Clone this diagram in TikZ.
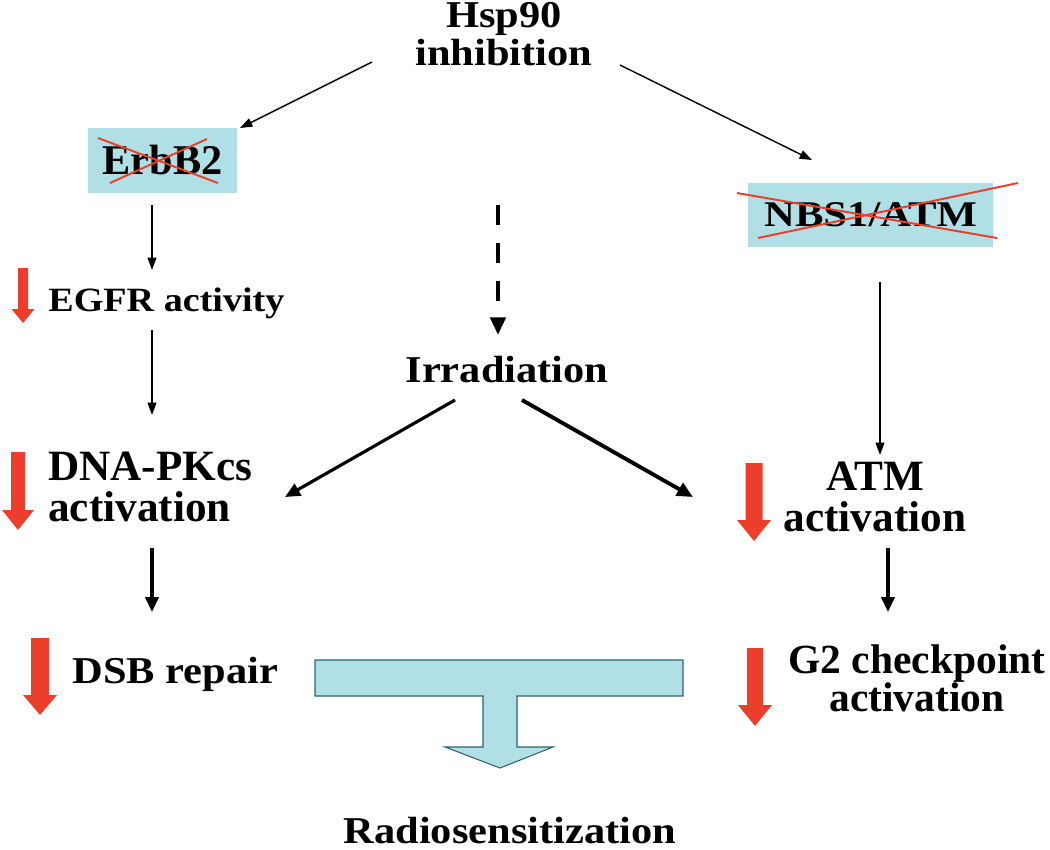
\documentclass[tikz,border=0pt]{standalone}
\usepackage{fontspec}
\setmainfont{Liberation Serif}
\newfontfamily\widefont{Liberation Serif}[FakeStretch=1.12]
\newfontfamily\widerfont{Liberation Serif}[FakeStretch=1.18]
\usetikzlibrary{arrows.meta,calc}
\definecolor{boxblue}{RGB}{176,223,229}
\definecolor{boxedge}{RGB}{45,100,110}
\definecolor{redarrow}{RGB}{236,62,42}
\newcommand\dnblockarrow[6]{%
  \fill[redarrow] (#1-#5,#2) -- (#1+#5,#2) -- (#1+#5,#3) -- (#1+#6,#3) -- (#1,#4) -- (#1-#6,#3) -- (#1-#5,#3) -- cycle;}
\begin{document}
\begin{tikzpicture}[x=0.567pt,y=-0.567pt,
  lbl/.style={font=\fontsize{24}{22}\selectfont\bfseries, inner sep=0pt},
  widelbl/.style={font=\widefont\fontsize{21.5}{21.5}\selectfont\bfseries, inner sep=0pt},
  thinarr/.style={line width=0.8pt, -{Triangle[length=7pt,width=5pt]}},
  midarr/.style={line width=1.8pt, -{Triangle[length=8.5pt,width=7.5pt]}},
  thickarr/.style={line width=2.2pt, -{Triangle[length=9pt,width=8pt]}},
  xline/.style={draw=redarrow, line width=1.1pt},
  inhibbox/.style={fill=boxblue, inner sep=0pt, font=\fontsize{24}{22}\selectfont\bfseries},
]
\useasboundingbox (0,0) rectangle (1050,849);

% texts
\node[widelbl, align=center, anchor=south] (hsp) at (504,66) {Hsp90\\inhibition};
\node[inhibbox, minimum width=84.5pt, minimum height=36.9pt] (erb) at (162.5,160.5) {ErbB2};
\node[inhibbox, font=\widerfont\fontsize{20.5}{22}\selectfont\bfseries, minimum width=138.9pt, minimum height=36.3pt] (nbs) at (870.5,215) {NBS1/ATM};
\node[lbl, font=\widefont\fontsize{19.3}{22}\selectfont\bfseries, anchor=base west] (egfr) at (48,311) {EGFR activity};
\node[widelbl, anchor=base] (irr) at (507,382) {Irradiation};
\node[lbl, font=\fontsize{24.5}{23}\selectfont\bfseries, align=left, anchor=south west] (dna) at (48,522) {DNA-PKcs\\activation};
\node[lbl, font=\fontsize{24.5}{23}\selectfont\bfseries, align=center, anchor=south] (atm) at (875,532) {ATM\\activation};
\node[widelbl, anchor=base west] (dsb) at (72,683) {DSB repair};
\node[lbl, font=\fontsize{23.5}{21.5}\selectfont\bfseries, align=center, anchor=south] (g2) at (917,712) {G2 checkpoint\\activation};
\node[widelbl, anchor=base] (rad) at (510,843) {Radiosensitization};

% red crosses
\draw[xline] (98,138) -- (218,183);
\draw[xline] (110,183) -- (207,139);
\draw[xline] (737,193) -- (997,238);
\draw[xline] (758,238) -- (1018,183);

% arrow end points
\coordinate (h1) at (372,62);  \coordinate (e1) at (240,128);
\coordinate (h2) at (620,65);  \coordinate (n1) at (812,160);
\coordinate (d1) at (498,205); \coordinate (i1) at (498,335);
\coordinate (erbout) at (152,205); \coordinate (egfrin) at (152,270);
\coordinate (egfrout) at (152,330); \coordinate (dnain) at (152,415);
\coordinate (nbsout) at (880,282); \coordinate (atmin) at (880,455);
\coordinate (irrl) at (455,400); \coordinate (dnar) at (285,497);
\coordinate (irrr) at (522,400); \coordinate (atml) at (693,497);
\coordinate (dnaout) at (152,548); \coordinate (dsbin) at (152,612);
\coordinate (atmout) at (888,548); \coordinate (g2in) at (888,612);

\draw[thinarr] (h1) -- (e1);
\draw[thinarr] (h2) -- (n1);
\draw[line width=2.8pt, dash pattern=on 11.3pt off 10.2pt, -{Triangle[length=10pt,width=8.5pt]}] (d1) -- (i1);
\draw[thinarr] (erbout) -- (egfrin);
\draw[thinarr] (egfrout) -- (dnain);
\draw[thinarr] (nbsout) -- (atmin);
\draw[midarr] (irrl) -- (dnar);
\draw[thickarr] (irrr) -- (atml);
\draw[midarr] (dnaout) -- (dsbin);
\draw[midarr] (atmout) -- (g2in);

% red down arrows
\dnblockarrow{23}{268}{309}{323}{5}{11.5}
\dnblockarrow{18}{452}{510}{530}{7}{16}
\dnblockarrow{754}{463}{520}{541}{8.5}{17}
\dnblockarrow{40}{638}{695}{715}{9}{17}
\dnblockarrow{755}{648}{705}{726}{8}{17}

% T-shaped arrow
\filldraw[fill=boxblue, draw=boxedge, line width=0.6pt]
  (315,660) -- (683,660) -- (683,696) -- (517,696) -- (517,747) -- (553,747)
  -- (500,768) -- (445,747) -- (483,747) -- (483,696) -- (315,696) -- cycle;
\end{tikzpicture}
\end{document}
